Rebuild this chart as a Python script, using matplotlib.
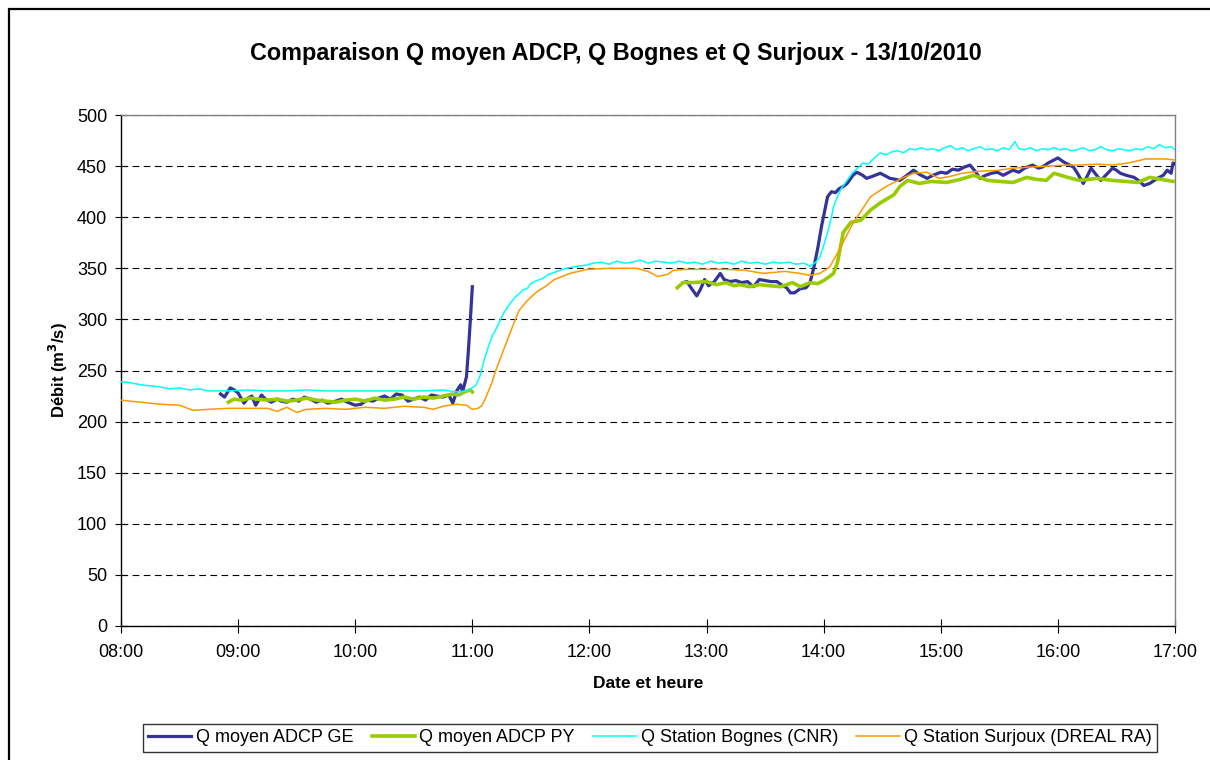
import numpy as np
import pandas as pd
import matplotlib
matplotlib.use('Agg')
import matplotlib.pyplot as plt
import matplotlib.dates as mdates
from matplotlib.patches import Rectangle

plt.rcParams['font.family'] = ['Liberation Sans', 'DejaVu Sans']

# --- data ---
ge_times = ['08:51', '08:53', '08:56', '08:58', '09:00', '09:03', '09:05', '09:07', '09:09', '09:12',
            '09:14', '09:17', '09:20', '09:22', '09:25', '09:28', '09:31', '09:34', '09:37', '09:40',
            '09:43', '09:46', '09:50', '09:53', '09:56', '10:00', '10:03', '10:06', '10:09', '10:12',
            '10:15', '10:18', '10:21', '10:24', '10:27', '10:30', '10:33', '10:36', '10:39', '10:42',
            '10:45', '10:48', '10:50', '10:52', '10:54', '10:55', '10:57', '10:58', '10:59', '11:00',
            '11:01',
            '12:48', '12:50', '12:52', '12:55', '12:57', '12:59', '13:01', '13:04', '13:07', '13:09',
            '13:12', '13:15', '13:18', '13:21', '13:24', '13:27', '13:30', '13:33', '13:36', '13:39',
            '13:41', '13:43', '13:45', '13:48', '13:51', '13:53', '13:55', '13:57', '13:59', '14:02',
            '14:04', '14:06', '14:08', '14:10', '14:12', '14:15', '14:17', '14:20', '14:22', '14:25',
            '14:29', '14:32', '14:34', '14:37', '14:39', '14:42', '14:46', '14:49', '14:53', '14:56',
            '15:00', '15:03', '15:06', '15:09', '15:12', '15:15', '15:18', '15:20', '15:23', '15:26',
            '15:29', '15:32', '15:35', '15:37', '15:40', '15:43', '15:47', '15:50', '15:52', '15:55',
            '15:58', '16:00', '16:03', '16:06', '16:08', '16:10', '16:13', '16:15', '16:17', '16:19',
            '16:22', '16:25', '16:28', '16:30', '16:32', '16:35', '16:39', '16:42', '16:44', '16:47',
            '16:51', '16:54', '16:56', '16:58', '16:59', '17:00']
ge_vals = [227, 224, 233, 231, 228, 218, 223, 225, 216, 226,
           222, 219, 222, 220, 219, 222, 220, 224, 222, 219,
           221, 218, 220, 222, 219, 216, 217, 221, 220, 223,
           225, 222, 227, 226, 220, 222, 224, 221, 226, 225,
           224, 226, 218, 230, 236, 229, 244, 270, 300, 332,
           np.nan,
           336, 337, 331, 323, 330, 339, 333, 337, 345, 339,
           337, 338, 336, 337, 332, 339, 338, 337, 337, 333,
           331, 326, 326, 330, 331, 336, 351, 370, 392, 420,
           425, 424, 428, 430, 433, 441, 444, 441, 438, 440,
           443, 440, 438, 437, 436, 440, 446, 442, 438, 441,
           444, 443, 447, 446, 449, 451, 444, 438, 441, 443,
           444, 441, 444, 446, 444, 448, 451, 448, 449, 453,
           456, 458, 454, 451, 449, 443, 433, 440, 448, 443,
           436, 442, 448, 446, 443, 441, 439, 435, 431, 433,
           438, 441, 446, 443, 453, 452]

py_times = ['08:55', '08:58', '09:02', '09:06', '09:10', '09:15', '09:20', '09:25', '09:30', '09:35',
            '09:40', '09:45', '09:50', '09:55', '10:00', '10:05', '10:10', '10:15', '10:20', '10:25',
            '10:30', '10:35', '10:40', '10:45', '10:50', '10:53', '10:56', '10:59', '11:00',
            '11:01',
            '12:45', '12:48', '12:53', '13:00', '13:05', '13:10', '13:14', '13:17', '13:22', '13:27',
            '13:32', '13:38', '13:44', '13:48', '13:53', '13:57', '14:00', '14:03', '14:05', '14:07',
            '14:10', '14:14', '14:19', '14:24', '14:29', '14:36', '14:39', '14:43', '14:49', '14:55',
            '15:03', '15:10', '15:17', '15:24', '15:30', '15:37', '15:44', '15:49', '15:54', '15:58',
            '16:05', '16:11', '16:16', '16:20', '16:28', '16:35', '16:41', '16:47', '16:53', '16:59']
py_vals = [219, 222, 221, 223, 222, 221, 222, 220, 221, 223,
           221, 220, 219, 221, 222, 220, 223, 221, 222, 224,
           222, 224, 223, 225, 227, 226, 229, 231, 229,
           np.nan,
           331, 336, 336, 337, 334, 336, 333, 334, 332, 334,
           333, 332, 336, 332, 336, 335, 338, 342, 345, 355,
           385, 395, 397, 407, 414, 422, 430, 436, 433, 435,
           434, 437, 441, 436, 435, 434, 439, 437, 436, 443,
           439, 436, 437, 438, 436, 435, 434, 439, 437, 435]

bognes_times = ['08:00', '08:05', '08:10', '08:15', '08:20', '08:25', '08:30', '08:35', '08:40', '08:45',
                '08:55', '09:05', '09:15', '09:25', '09:35', '09:45', '09:55', '10:05', '10:15', '10:25',
                '10:35', '10:45', '10:52', '10:57', '11:00', '11:02', '11:04', '11:06', '11:08', '11:10',
                '11:12', '11:14', '11:16', '11:18', '11:20', '11:22', '11:24', '11:26', '11:28', '11:30',
                '11:33', '11:36', '11:39', '11:42', '11:45', '11:48', '11:51', '11:54', '11:58', '12:02',
                '12:06', '12:10', '12:14', '12:18', '12:22', '12:26', '12:30', '12:34', '12:38', '12:42',
                '12:46', '12:50', '12:54', '12:58', '13:02', '13:06', '13:10', '13:14', '13:18', '13:22',
                '13:26', '13:30', '13:34', '13:38', '13:42', '13:46', '13:50', '13:53', '13:56', '13:58',
                '14:00', '14:02', '14:04', '14:05', '14:07', '14:09', '14:12', '14:15', '14:18', '14:20',
                '14:23', '14:26', '14:29', '14:32', '14:35', '14:38', '14:41', '14:44', '14:47', '14:50',
                '14:53', '14:56', '14:59', '15:02', '15:05', '15:08', '15:11', '15:14', '15:17', '15:20',
                '15:23', '15:26', '15:29', '15:32', '15:35', '15:38', '15:40', '15:43', '15:46', '15:49',
                '15:52', '15:55', '15:58', '16:01', '16:04', '16:07', '16:10', '16:13', '16:16', '16:19',
                '16:22', '16:25', '16:28', '16:31', '16:34', '16:37', '16:40', '16:43', '16:46', '16:49',
                '16:52', '16:55', '16:58', '17:00']
bognes_vals = [239, 238, 236, 235, 234, 232, 233, 231, 232, 230,
               230, 231, 230, 230, 231, 230, 230, 230, 230, 230,
               230, 231, 229, 230, 233, 236, 245, 260, 272, 283,
               290, 298, 306, 312, 317, 322, 325, 329, 330, 335,
               338, 340, 344, 346, 348, 350, 351, 352, 353, 355,
               356, 354, 357, 355, 356, 358, 355, 357, 356, 355,
               357, 355, 356, 354, 357, 355, 356, 354, 357, 355,
               356, 354, 356, 355, 356, 354, 355, 352, 356, 361,
               372, 385, 400, 410, 420, 428, 436, 444, 449, 453,
               452, 458, 463, 461, 464, 465, 463, 467, 466, 468,
               466, 467, 465, 468, 470, 466, 468, 465, 467, 469,
               466, 467, 465, 468, 466, 474, 467, 466, 468, 465,
               467, 466, 468, 466, 467, 465, 466, 468, 465, 466,
               469, 466, 465, 467, 466, 465, 467, 466, 469, 467,
               471, 468, 469, 466]

surjoux_times = ['08:00', '08:10', '08:20', '08:30', '08:37', '08:45', '08:55', '09:05', '09:15', '09:20',
                 '09:25', '09:30', '09:35', '09:45', '09:55', '10:05', '10:15', '10:25', '10:35', '10:40',
                 '10:45', '10:52', '10:57', '11:00', '11:03', '11:05', '11:07', '11:10', '11:12', '11:15',
                 '11:18', '11:21', '11:24', '11:28', '11:33', '11:38', '11:42', '11:50', '11:59', '12:10',
                 '12:24', '12:30', '12:35', '12:40', '12:43', '12:50', '13:00', '13:10', '13:20', '13:29',
                 '13:40', '13:48', '13:53', '13:58', '14:03', '14:08', '14:15', '14:24', '14:32', '14:40',
                 '14:46', '14:53', '14:59', '15:05', '15:11', '15:20', '15:30', '15:37', '15:45', '15:55',
                 '16:05', '16:11', '16:20', '16:28', '16:36', '16:45', '16:55', '17:00']
surjoux_vals = [221, 219, 217, 216, 211, 212, 213, 213, 213, 210,
                214, 209, 212, 213, 212, 214, 213, 215, 214, 212,
                215, 217, 216, 212, 213, 216, 224, 238, 250, 265,
                280, 295, 309, 318, 327, 333, 339, 345, 349, 350,
                350, 347, 342, 344, 348, 349, 349, 349, 348, 345,
                347, 345, 343, 345, 351, 368, 394, 420, 430, 438,
                443, 444, 438, 440, 443, 445, 446, 448, 449, 450,
                451, 451, 452, 451, 453, 457, 457, 456]

labels = ['Q moyen ADCP GE', 'Q moyen ADCP PY', 'Q Station Bognes (CNR)',
          'Q Station Surjoux (DREAL RA)']


def to_dt(times):
    return pd.to_datetime(['2010-10-13 ' + t for t in times])


fig = plt.figure(figsize=(12.1, 7.6), dpi=100)
ax = fig.add_axes([121 / 1210, 134 / 760, 1054 / 1210, 511 / 760])

ax.plot(to_dt(ge_times), ge_vals, color='#333399', lw=2.3, label=labels[0], zorder=3)
ax.plot(to_dt(py_times), py_vals, color='#99CC00', lw=2.6, label=labels[1], zorder=4)
ax.plot(to_dt(bognes_times), bognes_vals, color='#00FFFF', lw=1.1, label=labels[2], zorder=5)
ax.plot(to_dt(surjoux_times), surjoux_vals, color='#FF9900', lw=1.1, label=labels[3], zorder=6)

ax.set_xlim(pd.Timestamp('2010-10-13 08:00'), pd.Timestamp('2010-10-13 17:00'))
ax.set_ylim(0, 500)
ax.xaxis.set_major_locator(mdates.HourLocator())
ax.xaxis.set_major_formatter(mdates.DateFormatter('%H:%M'))
ax.set_yticks(range(0, 501, 50))
ax.yaxis.grid(True, color='black', linestyle=(0, (6, 4)), lw=0.8)
ax.set_axisbelow(True)

for side in ['left', 'bottom']:
    ax.spines[side].set_color('black')
    ax.spines[side].set_linewidth(1.0)
for side in ['top', 'right']:
    ax.spines[side].set_color('#808080')
    ax.spines[side].set_linewidth(1.0)

ax.tick_params(axis='y', direction='inout', length=8, width=0.8, labelsize=13, pad=6)
ax.tick_params(axis='x', direction='inout', length=10, width=0.8, labelsize=13, pad=8)

ax.set_xlabel('Date et heure', fontsize=12.5, fontweight='bold', labelpad=11)
ax.set_ylabel('Débit (m$^\\mathbf{3}$/s)', fontsize=12, fontweight='bold', labelpad=5)

fig.text(0.509, 0.929, 'Comparaison Q moyen ADCP, Q Bognes et Q Surjoux - 13/10/2010',
         ha='center', va='center', fontsize=16.8, fontweight='bold')

leg = fig.legend(loc='center', bbox_to_anchor=(650 / 1210, 22 / 760), ncol=4,
                 fontsize=13, frameon=True, fancybox=False, handlelength=2.4,
                 columnspacing=1.0, handletextpad=0.25, borderpad=0.3)
leg.get_frame().set_edgecolor('black')
leg.get_frame().set_linewidth(1.0)

fig.patches.append(Rectangle((9 / 1210, -0.1), 1.2, (751 / 760) + 0.1,
                             transform=fig.transFigure, fill=False,
                             edgecolor='black', lw=1.6))

fig.savefig('out.png', dpi=100)
